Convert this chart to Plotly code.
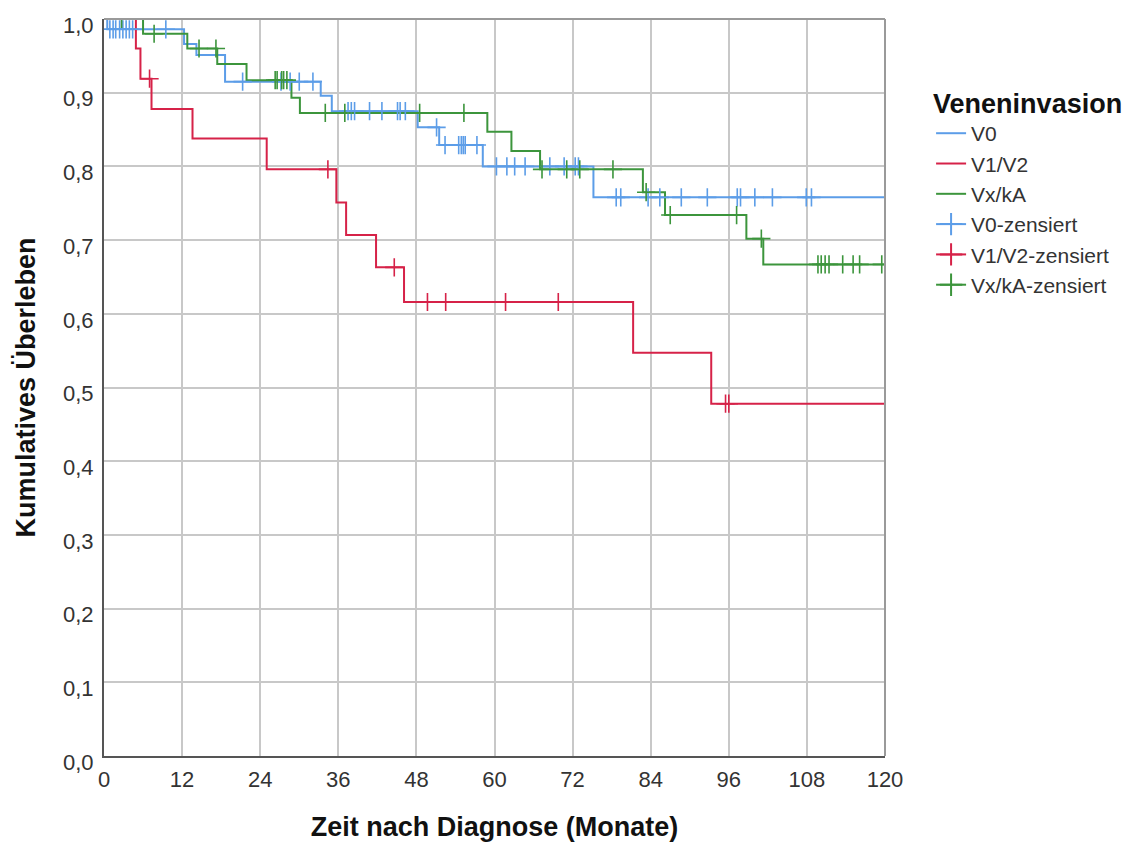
import numpy as np
import plotly.graph_objects as go

# Kaplan-Meier curves: event times (months) and survival after each event
v0_event_t = [0.5, 12.3, 14.2, 18.6, 33.3, 35.0, 48.2, 51.5, 58.2, 75.2]
v0_surv = [0.986, 0.966, 0.951, 0.915, 0.896, 0.875, 0.853, 0.829, 0.800, 0.758]
v0_censor_t = [0.9, 1.4, 1.8, 2.4, 2.9, 3.4, 3.9, 4.4, 9.5, 21.3, 27.2, 28.6, 30.0,
               32.1, 37.5, 38.0, 38.5, 40.8, 42.7, 45.1, 45.5, 46.3, 51.1, 52.4,
               54.5, 54.9, 55.2, 55.5, 57.3, 60.3, 61.9, 63.1, 64.7, 68.5, 70.7,
               72.4, 72.9, 78.7, 79.4, 83.6, 85.4, 88.7, 92.7, 97.3, 97.8, 100.0,
               102.7, 107.9, 108.7]

v12_event_t = [4.9, 5.6, 7.3, 13.6, 25.0, 35.7, 37.2, 41.8, 46.1, 81.3, 93.3]
v12_surv = [0.960, 0.919, 0.878, 0.838, 0.796, 0.751, 0.707, 0.663, 0.616, 0.547, 0.478]
v12_censor_t = [7.0, 34.4, 44.6, 49.7, 52.5, 61.7, 69.8, 95.5, 96.0]

vx_event_t = [6.0, 12.8, 17.4, 21.9, 28.8, 30.1, 58.9, 62.6, 67.0, 82.8, 86.2, 98.7, 101.3]
vx_surv = [0.980, 0.960, 0.939, 0.917, 0.893, 0.8725, 0.847, 0.821, 0.796, 0.765,
           0.734, 0.702, 0.667]
vx_censor_t = [2.7, 7.7, 14.6, 17.2, 26.3, 26.6, 27.3, 27.6, 28.1, 34.0, 37.0, 48.5,
               55.3, 67.3, 71.1, 73.1, 78.2, 83.3, 87.0, 97.2, 101.0, 109.7, 110.2,
               110.8, 111.4, 113.5, 115.1, 116.1, 119.5]

group_names = ["V0", "V1/V2", "Vx/kA"]
follow_up_end = 120
x_ticks = list(range(0, 121, 12))
y_ticks = [round(0.1 * i, 1) for i in range(11)]

colors = ["#5C9DE8", "#D62248", "#3C953C"]
groups = [
    (v0_event_t, v0_surv, v0_censor_t),
    (v12_event_t, v12_surv, v12_censor_t),
    (vx_event_t, vx_surv, vx_censor_t),
]

fig = go.Figure()

# survival step curves
for name, color, (et, sv, ct) in zip(group_names, colors, groups):
    xs = [0] + list(et) + [follow_up_end]
    ys = [1.0] + list(sv) + [sv[-1]]
    fig.add_trace(go.Scatter(
        x=xs, y=ys, mode="lines", name=name, line=dict(color=color, width=2, shape="hv"),
        hoverinfo="skip",
    ))

# censored observations sit on the curve level at their time
for name, color, (et, sv, ct) in zip(group_names, colors, groups):
    levels = np.array([1.0] + list(sv))
    idx = np.searchsorted(np.array(et), np.array(ct), side="right")
    fig.add_trace(go.Scatter(
        x=ct, y=levels[idx], mode="markers", showlegend=False,
        marker=dict(symbol="cross-thin", size=13, line=dict(color=color, width=1.6)),
        hoverinfo="skip",
    ))

# legend entries for the censor marks
for name, color in zip(group_names, colors):
    fig.add_trace(go.Scatter(
        x=[None], y=[None], mode="lines+markers", name=f"{name}-zensiert",
        line=dict(color=color, width=2),
        marker=dict(symbol="cross-thin", size=20, line=dict(color=color, width=2)),
    ))

font_family = "Liberation Sans, Arial, sans-serif"

fig.update_layout(
    width=1137, height=846,
    margin=dict(l=104, r=252, t=19, b=90, autoexpand=False),
    paper_bgcolor="white", plot_bgcolor="white",
    separators=",.",
    font=dict(family=font_family, color="#222222", size=18),
    showlegend=True,
    legend=dict(
        title=dict(text="<b>Veneninvasion</b>", font=dict(size=27, color="#111111")),
        font=dict(size=21, color="#333333"),
        x=1.059, y=0.92, xanchor="left", yanchor="top",
        tracegroupgap=0, itemwidth=30,
    ),
    xaxis=dict(
        range=[0, 120], tickvals=x_ticks, ticktext=[str(v) for v in x_ticks],
        showgrid=True, gridcolor="#C8C8C8", gridwidth=1.5,
        showline=True, linecolor="#555555", linewidth=2,
        zeroline=False, ticks="", tickfont=dict(size=22, color="#333333"),
        ticklabelstandoff=3,
        title=dict(text="<b>Zeit nach Diagnose (Monate)</b>",
                   font=dict(size=27, color="#111111"), standoff=26),
    ),
    yaxis=dict(
        range=[0, 1], tickvals=y_ticks, tickformat=".1f",
        showgrid=True, gridcolor="#C8C8C8", gridwidth=1.5,
        showline=True, linecolor="#555555", linewidth=2, zeroline=False, ticks="",
        tickfont=dict(size=22, color="#333333"), ticklabelshift=6, ticklabelstandoff=4,
        title=dict(text="<b>Kumulatives Überleben</b>", font=dict(size=27, color="#111111"),
                   standoff=20),
    ),
)

# light frame on top and right side
fig.add_shape(type="line", xref="paper", yref="paper", x0=0, x1=1, y0=1, y1=1,
              line=dict(color="#9A9A9A", width=2))
fig.add_shape(type="line", xref="paper", yref="paper", x0=1, x1=1, y0=0, y1=1,
              line=dict(color="#9A9A9A", width=2))

fig.write_html("out.html")
